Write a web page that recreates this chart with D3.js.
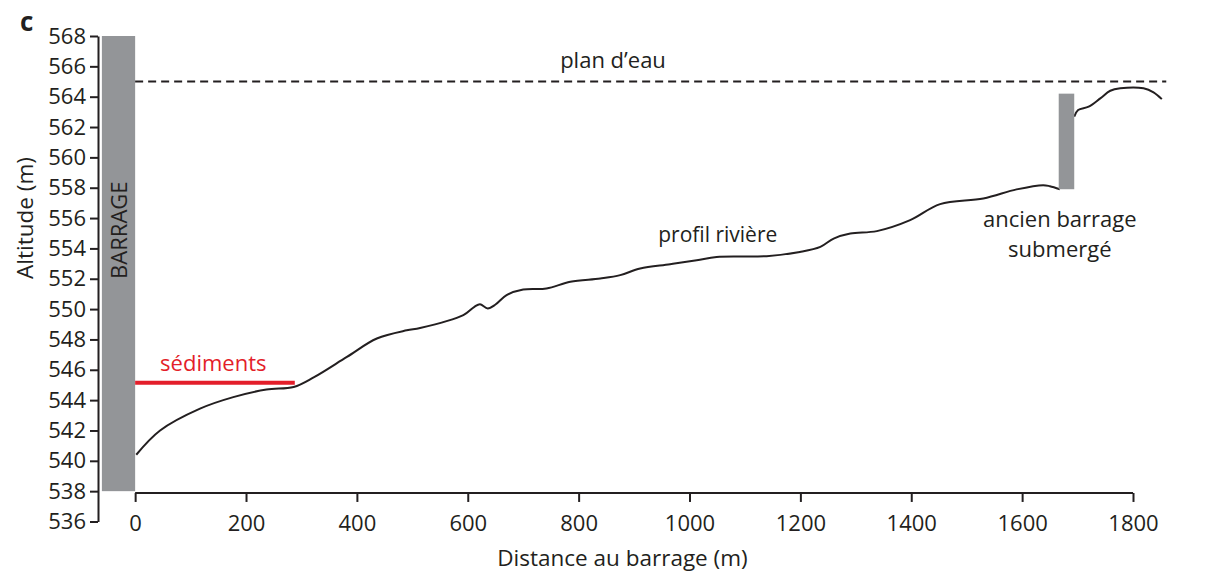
<!DOCTYPE html>
<html>
<head>
<meta charset="utf-8">
<script src="https://cdn.jsdelivr.net/npm/d3@7"></script>
<style>
  html, body { margin: 0; padding: 0; background: #fff; }
  svg { display: block; font-family: "Open Sans", "Liberation Sans", sans-serif; }
  .axis text { font-family: "Open Sans", sans-serif; font-size: 22px; fill: #231f20; }
  .axis path, .axis line { stroke: #231f20; stroke-width: 2px; }
</style>
</head>
<body>
<svg id="chart" width="1221" height="579"></svg>
<script>
// Longitudinal profile of the reservoir bottom upstream of the dam.

// Axis ticks
const xTicks = [0, 200, 400, 600, 800, 1000, 1200, 1400, 1600, 1800];
const yTicks = d3.range(536, 569, 2);

// River bed profile downstream of the old submerged dam (distance m, altitude m)
const bedDist = [2, 45, 117, 177, 237, 286, 322, 382, 436, 490, 514, 592, 612, 622, 636, 650, 670, 700, 742, 785, 839, 875, 911, 965, 1013, 1049, 1139, 1199, 1236, 1260, 1290, 1338, 1398, 1452, 1530, 1590, 1638, 1650, 1668];
const bedAlt  = [540.4, 542.0, 543.44, 544.2, 544.7, 544.87, 545.5, 546.85, 548.06, 548.6, 548.75, 549.6, 550.15, 550.32, 550.04, 550.3, 550.92, 551.29, 551.36, 551.8, 552.02, 552.24, 552.68, 552.96, 553.22, 553.44, 553.49, 553.77, 554.1, 554.65, 554.98, 555.14, 555.86, 556.92, 557.29, 557.89, 558.17, 558.1, 557.9];

// River bed profile upstream of the old submerged dam
const upDist = [1694, 1701, 1720, 1741, 1759, 1777, 1819, 1837, 1852];
const upAlt  = [562.68, 563.12, 563.34, 563.89, 564.39, 564.55, 564.55, 564.29, 563.84];

// Water level, sediment top and structures
const waterLevel = 565;
const waterExtent = [0, 1860];
const sedimentTop = 545.15;
const sedimentExtent = [0, 288];
const damDist = [-60, 0];       // main dam
const damAlt = [538, 568];
const oldDamDist = [1666, 1694]; // old submerged dam
const oldDamAlt = [557.9, 564.2];

const svg = d3.select("#chart");

const x = d3.scaleLinear().domain([-67, 1800]).range([98, 1133]);
const y = d3.scaleLinear().domain([536, 568]).range([521.5, 36]);

const ink = "#231f20";
const grey = "#939598";
const red = "#e31e2a";

// Y axis
svg.append("g")
  .attr("class", "axis")
  .attr("transform", `translate(${x(-67)},0)`)
  .call(d3.axisLeft(y).tickValues(yTicks).tickSize(8).tickSizeOuter(0).tickPadding(4).tickFormat(d3.format("d")));

// X axis (line spans 0–1800 only)
const xAxis = svg.append("g")
  .attr("class", "axis")
  .attr("transform", `translate(0,${y(538) + 1.8})`)
  .call(d3.axisBottom(x).tickValues(xTicks).tickSize(9).tickSizeOuter(0).tickPadding(13).tickFormat(d3.format("d")));
xAxis.select(".domain").attr("d", `M${x(0)},0H${x(1800)}`);

// Main dam
svg.append("rect")
  .attr("x", x(damDist[0])).attr("width", x(damDist[1]) - x(damDist[0]))
  .attr("y", y(damAlt[1])).attr("height", y(damAlt[0]) - y(damAlt[1]))
  .attr("fill", grey);

svg.append("text")
  .attr("transform", `translate(${x((damDist[0] + damDist[1]) / 2) + 8.5},${y(555.2)}) rotate(-90)`)
  .attr("text-anchor", "middle")
  .attr("font-size", 22)
  .attr("fill", ink)
  .text("BARRAGE");

// Water level
svg.append("line")
  .attr("x1", x(waterExtent[0])).attr("x2", x(waterExtent[1]))
  .attr("y1", y(waterLevel)).attr("y2", y(waterLevel))
  .attr("stroke", ink).attr("stroke-width", 2)
  .attr("stroke-dasharray", "8,5");

// Sediment top
svg.append("line")
  .attr("x1", x(sedimentExtent[0])).attr("x2", x(sedimentExtent[1]))
  .attr("y1", y(sedimentTop)).attr("y2", y(sedimentTop))
  .attr("stroke", red).attr("stroke-width", 4);

// River bed
const line = d3.line()
  .x(d => x(d[0])).y(d => y(d[1]))
  .curve(d3.curveCatmullRom.alpha(0.5));

svg.append("path")
  .attr("d", line(d3.zip(bedDist, bedAlt)))
  .attr("fill", "none").attr("stroke", ink).attr("stroke-width", 2);

svg.append("path")
  .attr("d", line(d3.zip(upDist, upAlt)))
  .attr("fill", "none").attr("stroke", ink).attr("stroke-width", 2);

// Old submerged dam
svg.append("rect")
  .attr("x", x(oldDamDist[0])).attr("width", x(oldDamDist[1]) - x(oldDamDist[0]))
  .attr("y", y(oldDamAlt[1])).attr("height", y(oldDamAlt[0]) - y(oldDamAlt[1]))
  .attr("fill", grey);

// Annotations
function label(txt, dx, alt, opts = {}) {
  return svg.append("text")
    .attr("x", x(dx)).attr("y", y(alt))
    .attr("text-anchor", "middle")
    .attr("font-size", opts.size || 22)
    .attr("fill", opts.color || ink)
    .text(txt);
}
label("plan d\u2019eau", 862, 565.87);
label("sédiments", 141, 545.92, { color: red });
label("profil rivière", 1051, 554.43, { size: 21 });
label("ancien barrage", 1668, 555.42);
label("submergé", 1668, 553.44);

// Axis titles
svg.append("text")
  .attr("x", 622.5).attr("y", 566)
  .attr("text-anchor", "middle").attr("font-size", 22.5).attr("fill", ink)
  .text("Distance au barrage (m)");

svg.append("text")
  .attr("transform", `translate(33,218) rotate(-90)`)
  .attr("text-anchor", "middle").attr("font-size", 22.5).attr("fill", ink)
  .text("Altitude (m)");

// Panel letter
svg.append("text")
  .attr("x", 20).attr("y", 31)
  .attr("font-size", 26).attr("font-weight", "bold").attr("fill", ink)
  .text("c");
</script>
</body>
</html>
